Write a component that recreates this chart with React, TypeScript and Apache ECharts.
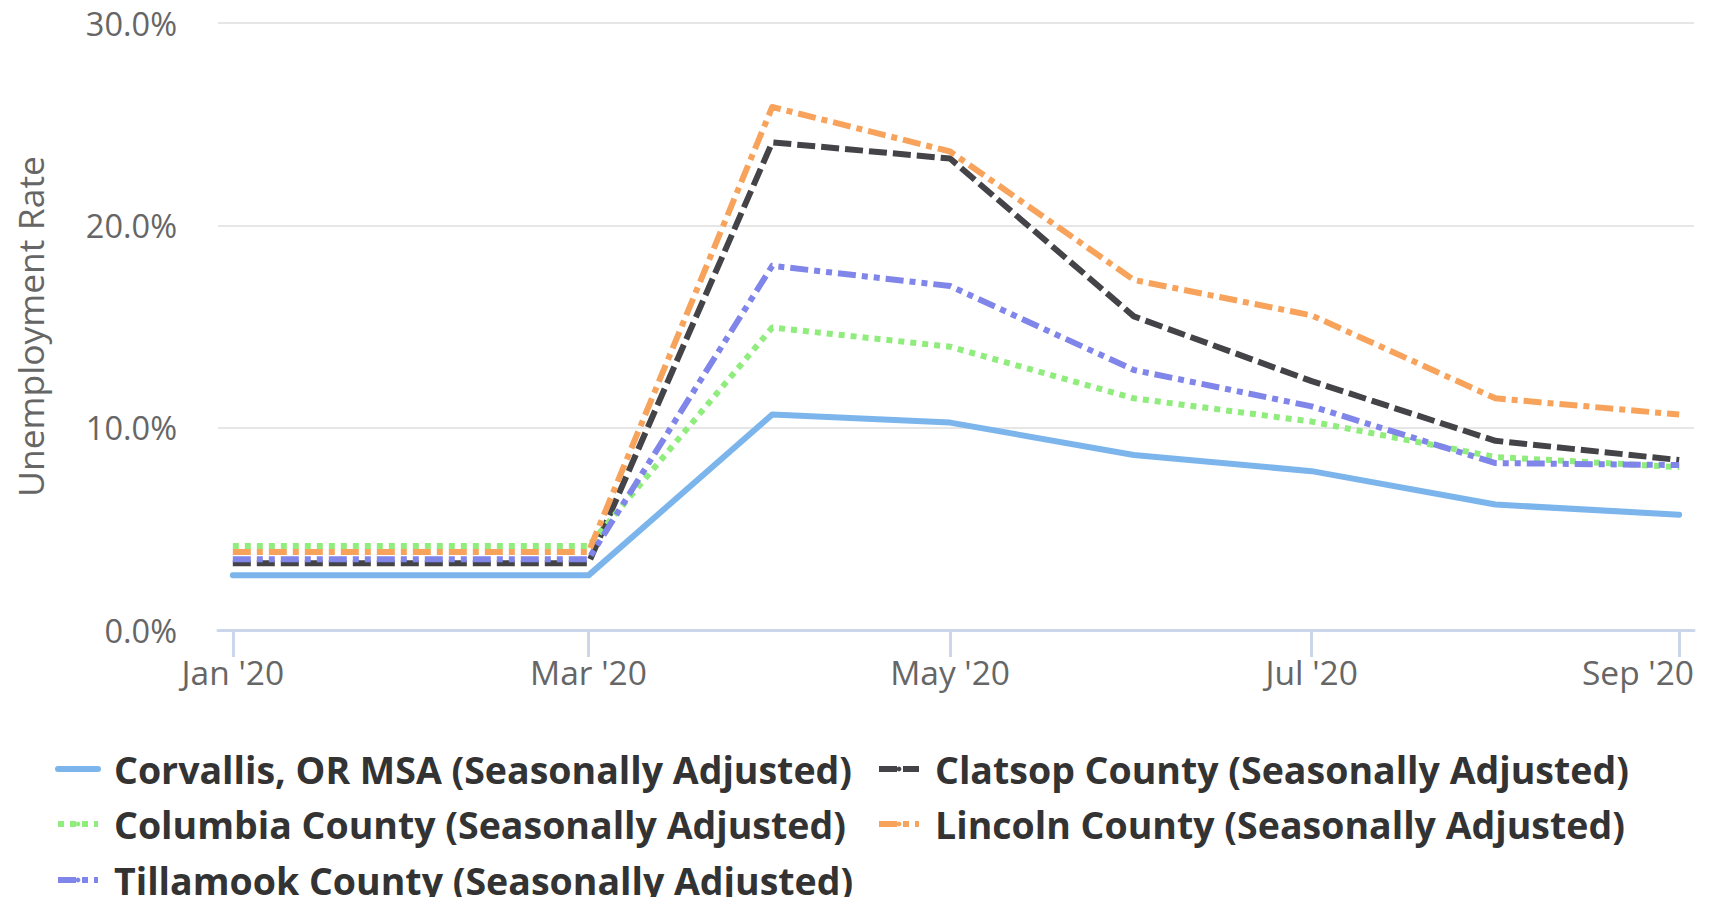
import React, { useEffect, useRef } from "react";
import * as echarts from "echarts";

const DAY = 24 * 3600 * 1000;

const months = [
  Date.UTC(2020, 0, 1),
  Date.UTC(2020, 1, 1),
  Date.UTC(2020, 2, 1),
  Date.UTC(2020, 3, 1),
  Date.UTC(2020, 4, 1),
  Date.UTC(2020, 5, 1),
  Date.UTC(2020, 6, 1),
  Date.UTC(2020, 7, 1),
  Date.UTC(2020, 8, 1),
];

const seriesNames = [
  "Corvallis, OR MSA (Seasonally Adjusted)",
  "Clatsop County (Seasonally Adjusted)",
  "Columbia County (Seasonally Adjusted)",
  "Lincoln County (Seasonally Adjusted)",
  "Tillamook County (Seasonally Adjusted)",
];

const corvallis = [2.7, 2.7, 2.7, 10.65, 10.25, 8.65, 7.85, 6.2, 5.7];
const clatsop = [3.3, 3.3, 3.3, 24.1, 23.3, 15.5, 12.3, 9.35, 8.4];
const columbia = [4.15, 4.15, 4.15, 14.95, 14.0, 11.45, 10.3, 8.55, 8.05];
const lincoln = [3.85, 3.85, 3.85, 25.85, 23.65, 17.3, 15.55, 11.45, 10.65];
const tillamook = [3.5, 3.5, 3.5, 18.0, 17.0, 12.85, 11.05, 8.25, 8.15];

const tickDates = [
  Date.UTC(2020, 0, 1),
  Date.UTC(2020, 2, 1),
  Date.UTC(2020, 4, 1),
  Date.UTC(2020, 6, 1),
  Date.UTC(2020, 8, 1),
];
const monthAbbr = ["Jan", "Feb", "Mar", "Apr", "May", "Jun", "Jul", "Aug", "Sep", "Oct", "Nov", "Dec"];
const yTicks = { min: 0, max: 30, interval: 10 };

const colors = ["#7cb5ec", "#434348", "#90ed7d", "#f7a35c", "#8085e9"];
const W = 6;
const dashes: any[] = [
  "solid",
  [3 * W, 1 * W],
  [1 * W, 1 * W],
  [3 * W, 1 * W, 1 * W, 1 * W],
  [3 * W, 1 * W, 1 * W, 1 * W, 1 * W, 1 * W],
];
const allValues = [corvallis, clatsop, columbia, lincoln, tillamook];

const FONT = "'Open Sans', 'Noto Sans', sans-serif";

export default function App() {
  const ref = useRef<HTMLDivElement>(null);
  useEffect(() => {
    if (!ref.current) return;
    const chart = echarts.init(ref.current, undefined, { renderer: "svg" });
    const xMin = months[0] - 2.5 * DAY;
    const xMax = months[months.length - 1] + 2.5 * DAY;
    const labelValues = tickDates.slice(0, -1).concat([xMax]);

    const legendPos = [
      { left: 55, top: 748 },
      { left: 876, top: 748 },
      { left: 55, top: 803 },
      { left: 876, top: 803 },
      { left: 55, top: 859 },
    ];

    chart.setOption({
      animation: false,
      backgroundColor: "#ffffff",
      textStyle: { fontFamily: FONT },
      grid: { left: 218, right: 18, top: 23, height: 607 },
      xAxis: {
        type: "value",
        min: xMin,
        max: xMax,
        axisLine: { show: true, lineStyle: { color: "#ccd6eb", width: 3 } },
        axisTick: {
          show: true,
          length: 27,
          lineStyle: { color: "#ccd6eb", width: 3 },
          customValues: tickDates,
        },
        axisLabel: {
          customValues: labelValues,
          alignMaxLabel: "right",
          color: "#666666",
          fontSize: 33.5,
          fontFamily: FONT,
          margin: 25,
          formatter: (v: number) => {
            const d = new Date(v);
            return monthAbbr[d.getUTCMonth()] + " '" + String(d.getUTCFullYear()).slice(2);
          },
        },
        splitLine: { show: false },
      },
      yAxis: {
        type: "value",
        min: yTicks.min,
        max: yTicks.max,
        interval: yTicks.interval,
        name: "Unemployment Rate",
        nameLocation: "middle",
        nameGap: 170,
        nameTextStyle: { color: "#666666", fontSize: 35.5, fontFamily: FONT },
        axisLine: { show: false },
        axisTick: { show: false },
        axisLabel: {
          color: "#666666",
          fontSize: 32.5,
          fontFamily: FONT,
          margin: 41,
          formatter: (v: number) => v.toFixed(1) + "%",
        },
        splitLine: { lineStyle: { color: "#e6e6e6", width: 2 } },
      },
      legend: seriesNames.map((n, i) => ({
        data: [n],
        left: legendPos[i].left,
        top: legendPos[i].top,
        padding: 0,
        itemWidth: 40,
        itemHeight: 6,
        selectedMode: false,
        lineStyle: { width: W },
        textStyle: {
          fontFamily: FONT,
          fontSize: 37.5,
          fontWeight: "bold",
          color: "#333333",
          padding: [0, 0, 0, 11],
          lineHeight: 42,
        },
      })),
      series: seriesNames.map((n, i) => ({
        name: n,
        type: "line",
        symbol: "none",
        showSymbol: false,
        data: months.map((m, j) => [m, allValues[i][j]]),
        itemStyle: { color: colors[i] },
        lineStyle: {
          color: colors[i],
          width: W,
          type: dashes[i],
          cap: i === 0 ? "round" : "butt",
          join: "round",
        },
      })),
    });
    return () => chart.dispose();
  }, []);
  return (
    <div
      ref={ref}
      style={{ position: "fixed", left: 0, top: 0, width: 1712, height: 897, background: "#fff" }}
    />
  );
}
